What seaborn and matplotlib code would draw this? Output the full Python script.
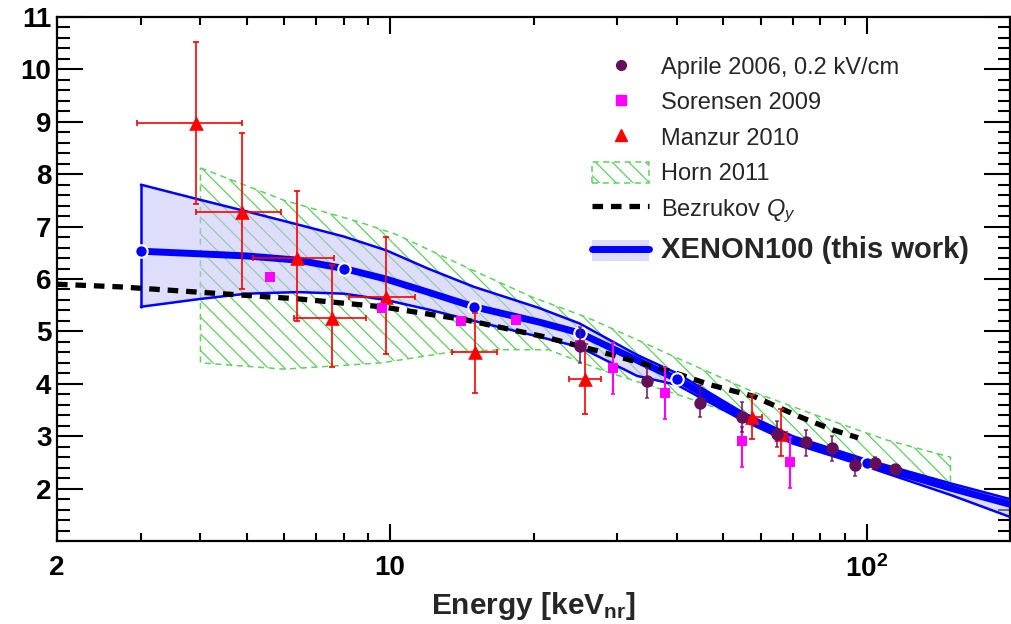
import numpy as np
import matplotlib
matplotlib.use("Agg")
import matplotlib.pyplot as plt
import seaborn as sns
from matplotlib.patches import Patch
from matplotlib.lines import Line2D
from matplotlib.ticker import FixedLocator, FixedFormatter, NullFormatter

# ---------------- data ----------------
# XENON100 (this work): band + central curve
xe_E  = [3, 4, 5, 6.4, 8, 9.8, 12, 15, 20.5, 25, 33, 40, 55, 70, 100, 150, 200]
xe_up = [7.8, 7.51, 7.29, 7.04, 6.81, 6.55, 6.2, 5.85, 5.45, 5.15, 4.55, 4.2, 3.45, 3.0, 2.55, 2.1, 1.8]
xe_c  = [6.53, 6.48, 6.44, 6.36, 6.2, 6.0, 5.75, 5.47, 5.18, 4.97, 4.45, 4.09, 3.38, 2.92, 2.48, 2.01, 1.7]
xe_lo = [5.47, 5.62, 5.72, 5.75, 5.72, 5.6, 5.42, 5.2, 4.9, 4.7, 4.15, 3.98, 3.3, 2.86, 2.42, 1.88, 1.46]
xe_pt_E = [3, 8, 15, 25, 40, 100]
xe_pt_Q = [6.53, 6.2, 5.47, 4.97, 4.09, 2.48]

# Horn 2011 band
horn_up_E = [4, 6, 8.6, 10.3, 14.4, 19.8, 26, 33, 41, 58, 80, 110, 150]
horn_up_Q = [8.12, 7.5, 7.09, 6.85, 6.23, 5.66, 5.26, 4.84, 4.45, 3.84, 3.37, 2.93, 2.6]
horn_lo_E = [4, 6, 9.6, 13.3, 17, 21.5, 28, 40, 47.6, 70, 100, 150]
horn_lo_Q = [4.4, 4.28, 4.4, 4.6, 4.65, 4.65, 4.25, 3.8, 3.56, 3.0, 2.55, 2.11]

# Bezrukov Qy
bez_E = [2, 2.71, 6.43, 9.6, 14.4, 21, 28, 39, 47, 58, 72, 85, 96]
bez_Q = [5.9, 5.85, 5.62, 5.47, 5.22, 4.9, 4.6, 4.23, 3.98, 3.76, 3.38, 3.12, 2.97]

# Manzur 2010
man_E    = [3.92, 4.9, 6.38, 7.56, 9.8, 15.1, 25.7, 57.4, 66.2]
man_E_lo = [2.95, 3.92, 5.16, 6.3, 8.2, 13.5, 23.7, 56.0, 64.0]
man_E_hi = [4.88, 5.91, 7.62, 8.9, 11.3, 16.8, 27.7, 60.3, 68.0]
man_Q    = [8.97, 7.27, 6.4, 5.26, 5.66, 4.61, 4.09, 3.37, 3.04]
man_Q_lo = [7.43, 5.81, 5.2, 4.32, 4.57, 3.82, 3.42, 2.95, 2.62]
man_Q_hi = [10.52, 8.79, 7.67, 6.26, 6.8, 5.35, 4.75, 3.79, 3.52]

# Sorensen 2009
sor_E    = [5.6, 9.6, 14.1, 18.4, 25, 29.4, 37.8, 54.8, 69.2]
sor_Q    = [6.04, 5.45, 5.2, 5.22, 4.74, 4.3, 3.83, 2.91, 2.51]
sor_Q_lo = [6.04, 5.45, 5.2, 5.22, 4.74, 3.8, 3.33, 2.41, 2.01]
sor_Q_hi = [6.04, 5.45, 5.2, 5.22, 4.74, 4.78, 4.32, 3.18, 2.98]

# Aprile 2006, 0.2 kV/cm
apr_E    = [25, 34.6, 44.7, 54.8, 65, 74.5, 84.6, 94.5, 104, 114.8]
apr_Q    = [4.72, 4.05, 3.63, 3.37, 3.04, 2.89, 2.77, 2.45, 2.49, 2.38]
apr_Q_lo = [4.4, 3.73, 3.37, 3.08, 2.79, 2.62, 2.53, 2.24, 2.37, 2.38]
apr_Q_hi = [5.08, 4.3, 3.98, 3.65, 3.29, 3.12, 3.0, 2.6, 2.6, 2.38]

legend_labels = ["Aprile 2006, 0.2 kV/cm", "Sorensen 2009", "Manzur 2010",
                 "Horn 2011", r"Bezrukov $Q_y$", "XENON100 (this work)"]
x_major = [2, 10, 100]
x_major_labels = ["2", "10", r"$\mathbf{10^{2}}$"]
y_major = [2, 3, 4, 5, 6, 7, 8, 9, 10, 11]

# ---------------- style ----------------
sns.set_style("ticks")
plt.rcParams["font.family"] = ["Liberation Sans", "DejaVu Sans"]
plt.rcParams["mathtext.fontset"] = "custom"
plt.rcParams["mathtext.rm"] = "Liberation Sans"
plt.rcParams["mathtext.it"] = "Liberation Sans:italic"
plt.rcParams["mathtext.bf"] = "Liberation Sans:bold"
plt.rcParams["hatch.linewidth"] = 0.9

PURPLE = "#640f5a"
MAGENTA = "#ff00ff"
RED = "#ff0000"
BLUE = "#0000ff"
GREEN = "#5fd25f"
LAVENDER = "#c4c4f6"
HATCH = "\\\\"
DASH = (0, (2.0, 1.5))

fig = plt.figure(figsize=(10.12, 6.24), dpi=100)
ax = fig.add_axes([57 / 1012, 1 - 541 / 624, (1010 - 57) / 1012, (541 - 17) / 624])
ax.set_xscale("log")

# Horn 2011 hatched band
horn_x = np.concatenate([horn_up_E, horn_lo_E[::-1]])
horn_y = np.concatenate([horn_up_Q, horn_lo_Q[::-1]])
ax.fill(horn_x, horn_y, facecolor="none", edgecolor=GREEN, hatch=HATCH,
        linestyle=(0, (4, 3)), linewidth=1.1, zorder=1)

# XENON100 band
ax.fill_between(xe_E, xe_lo, xe_up, facecolor=LAVENDER, alpha=0.55,
                edgecolor="none", zorder=2)
sns.lineplot(x=xe_E, y=xe_up, color=BLUE, lw=1.8, ax=ax, zorder=3, sort=False)
sns.lineplot(x=xe_E, y=xe_lo, color=BLUE, lw=1.8, ax=ax, zorder=3, sort=False)
ax.plot([xe_E[0], xe_E[0]], [xe_lo[0], xe_up[0]], color=BLUE, lw=1.8, zorder=3)
sns.lineplot(x=xe_E, y=xe_c, color=BLUE, lw=5, ax=ax, zorder=3, sort=False)

# Bezrukov
sns.lineplot(x=bez_E, y=bez_Q, color="black", lw=3.8, ax=ax, zorder=4,
             sort=False, linestyle=DASH)

# XENON100 points
sns.scatterplot(x=xe_pt_E, y=xe_pt_Q, marker="o", s=80, color=BLUE,
                edgecolor="white", linewidth=1.5, ax=ax, zorder=5)

# Manzur 2010
man_E_a = np.array(man_E); man_Q_a = np.array(man_Q)
ax.errorbar(man_E_a, man_Q_a,
            xerr=[man_E_a - np.array(man_E_lo), np.array(man_E_hi) - man_E_a],
            yerr=[man_Q_a - np.array(man_Q_lo), np.array(man_Q_hi) - man_Q_a],
            fmt="none", ecolor=RED, elinewidth=1.2, capsize=2.5, capthick=1.2, zorder=6)
sns.scatterplot(x=man_E, y=man_Q, marker="^", s=110, color=RED, edgecolor=RED,
                linewidth=0, ax=ax, zorder=7)

# Sorensen 2009
sor_E_a = np.array(sor_E); sor_Q_a = np.array(sor_Q)
ax.errorbar(sor_E_a, sor_Q_a,
            yerr=[sor_Q_a - np.array(sor_Q_lo), np.array(sor_Q_hi) - sor_Q_a],
            fmt="none", ecolor=MAGENTA, elinewidth=1.5, capsize=1.5, capthick=1.2, zorder=6)
sns.scatterplot(x=sor_E, y=sor_Q, marker="s", s=55, color=MAGENTA, edgecolor=MAGENTA,
                linewidth=0, ax=ax, zorder=7)

# Aprile 2006
apr_E_a = np.array(apr_E); apr_Q_a = np.array(apr_Q)
ax.errorbar(apr_E_a, apr_Q_a,
            yerr=[apr_Q_a - np.array(apr_Q_lo), np.array(apr_Q_hi) - apr_Q_a],
            fmt="none", ecolor=PURPLE, alpha=0.75, elinewidth=1.5, capsize=1.5,
            capthick=1.2, zorder=8)
sns.scatterplot(x=apr_E, y=apr_Q, marker="o", s=80, color=PURPLE, edgecolor=PURPLE,
                linewidth=0, ax=ax, zorder=9)

# ---------------- axes ----------------
ax.set_xlim(2, 200)
ax.set_ylim(1, 11)
ax.xaxis.set_major_locator(FixedLocator(x_major))
ax.xaxis.set_major_formatter(FixedFormatter(x_major_labels))
x_minor = [v for d in (1, 10, 100) for v in np.arange(2, 10) * d if 2 < v < 200 and v not in x_major]
ax.xaxis.set_minor_locator(FixedLocator(x_minor))
ax.xaxis.set_minor_formatter(NullFormatter())
ax.yaxis.set_major_locator(FixedLocator(y_major))
ax.yaxis.set_major_formatter(FixedFormatter([str(v) for v in y_major]))
y_minor = [round(v, 1) for v in np.arange(1.2, 11.0, 0.2) if abs(v - round(v)) > 1e-6]
ax.yaxis.set_minor_locator(FixedLocator(y_minor))

for s in ax.spines.values():
    s.set_visible(True)
    s.set_linewidth(1.6)
    s.set_color("black")

ax.tick_params(axis="both", which="both", direction="in", top=True, right=True,
               colors="black", width=1.5)
ax.tick_params(axis="y", which="major", length=19, pad=4, labelsize=20)
ax.tick_params(axis="y", which="minor", length=9)
ax.tick_params(axis="x", which="major", length=12, pad=10, labelsize=20)
ax.tick_params(axis="x", which="minor", length=6)
for lab in ax.get_xticklabels() + ax.get_yticklabels():
    lab.set_fontweight("bold")

ax.set_xlabel(r"Energy [keV$_{\mathbf{nr}}$]", fontsize=21.5, fontweight="bold")
ax.xaxis.set_label_coords(0.5, -0.093)
ax.set_ylabel("")

# ---------------- legend ----------------
handles = [
    Line2D([], [], marker="o", ls="none", color=PURPLE, ms=7),
    Line2D([], [], marker="s", ls="none", color=MAGENTA, ms=6.5),
    Line2D([], [], marker="^", ls="none", color=RED, ms=9),
    Patch(facecolor="none", edgecolor=GREEN, hatch=HATCH, linestyle=(0, (4, 3)), linewidth=1.1),
    Line2D([], [], color="black", lw=3.8, linestyle=DASH),
    (Patch(facecolor=LAVENDER, alpha=0.6, edgecolor="none"), Line2D([], [], color=BLUE, lw=5)),
]
leg = ax.legend(handles, legend_labels, loc="upper left", bbox_to_anchor=(0.561, 0.927),
                frameon=False, fontsize=17, handlelength=2.45, handleheight=1.0,
                handletextpad=0.5, labelspacing=0.5, borderpad=0, borderaxespad=0)
leg.get_texts()[-1].set_fontweight("bold")
leg.get_texts()[-1].set_fontsize(21)

fig.savefig("out.png", dpi=100)
